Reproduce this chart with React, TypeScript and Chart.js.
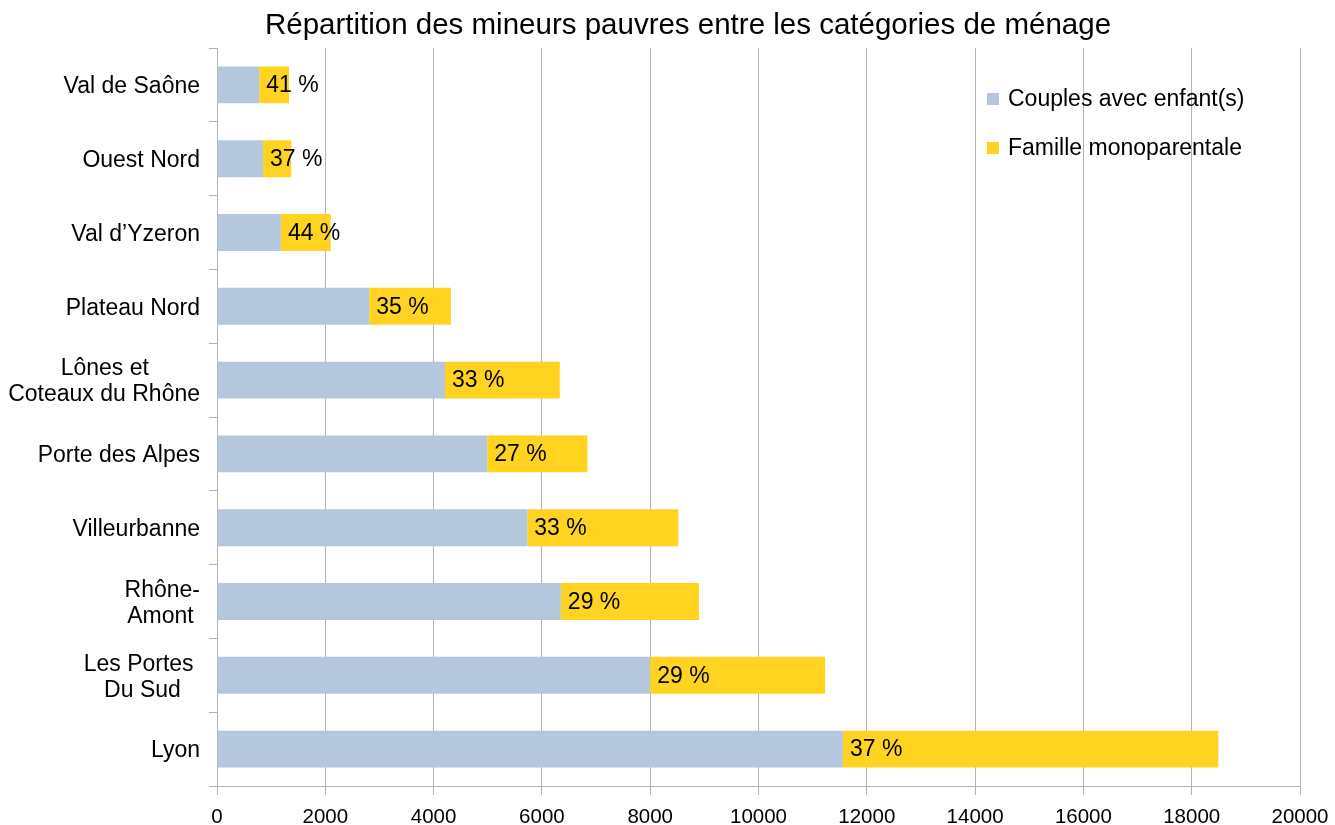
import React, { useEffect, useRef } from "react";
import { Chart, registerables } from "chart.js";

Chart.register(...registerables);

const titleText = "Répartition des mineurs pauvres entre les catégories de ménage";

const categories: (string | string[])[] = [
  "Val de Saône",
  "Ouest Nord",
  "Val d’Yzeron",
  "Plateau Nord",
  ["Lônes et        ", "Coteaux du Rhône"],
  "Porte des Alpes",
  "Villeurbanne",
  ["Rhône-", "Amont "],
  ["Les Portes ", "Du Sud   "],
  "Lyon",
];

const couples = [780, 850, 1180, 2810, 4210, 4990, 5730, 6350, 8000, 11560];
const monoparentale = [550, 520, 920, 1510, 2120, 1850, 2790, 2550, 3230, 6930];
const pctLabels = ["41 %", "37 %", "44 %", "35 %", "33 %", "27 %", "33 %", "29 %", "29 %", "37 %"];

const seriesNames = ["Couples avec enfant(s)", "Famille monoparentale"];
const seriesColors = ["#b4c7dc", "#ffd320"];

const xMax = 20000;
const xStep = 2000;

const FONT = "'Liberation Sans', Arial, sans-serif";

export default function App() {
  const ref = useRef<HTMLCanvasElement | null>(null);

  useEffect(() => {
    if (!ref.current) return;
    const titlePlugin = {
      id: "customTitle",
      afterDraw(chart: any) {
        const ctx = chart.ctx;
        ctx.save();
        ctx.font = `29.5px ${FONT}`;
        ctx.fillStyle = "#000";
        ctx.textAlign = "center";
        ctx.textBaseline = "middle";
        ctx.fillText(titleText, 688, 25.5);
        ctx.restore();
      },
    };
    const labelPlugin = {
      id: "pctLabels",
      afterDatasetsDraw(chart: any) {
        const ctx = chart.ctx;
        const meta = chart.getDatasetMeta(1);
        ctx.save();
        ctx.font = `23px ${FONT}`;
        ctx.fillStyle = "#000";
        ctx.textAlign = "left";
        ctx.textBaseline = "middle";
        meta.data.forEach((bar: any, i: number) => {
          ctx.fillText(pctLabels[i], bar.base + 7, bar.y + 1);
        });
        ctx.restore();
      },
    };
    const legendPlugin = {
      id: "innerLegend",
      afterDraw(chart: any) {
        const ctx = chart.ctx;
        const area = chart.chartArea;
        ctx.save();
        ctx.font = `23px ${FONT}`;
        ctx.textAlign = "left";
        ctx.textBaseline = "middle";
        chart.data.datasets.forEach((ds: any, i: number) => {
          const x = area.right - 313;
          const y = area.top + 51 + i * 49;
          ctx.fillStyle = ds.backgroundColor;
          ctx.fillRect(x, y - 6, 12, 12);
          ctx.fillStyle = "#000";
          ctx.fillText(ds.label, x + 21, y + 1);
        });
        ctx.restore();
      },
    };

    const chart = new Chart(ref.current, {
      type: "bar",
      data: {
        labels: categories as any,
        datasets: [
          { label: seriesNames[0], data: couples, backgroundColor: seriesColors[0], barPercentage: 0.5, categoryPercentage: 1 },
          { label: seriesNames[1], data: monoparentale, backgroundColor: seriesColors[1], barPercentage: 0.5, categoryPercentage: 1 },
        ],
      },
      options: {
        indexAxis: "y",
        responsive: false,
        animation: false,
        devicePixelRatio: 1,
        layout: { padding: { left: 0, right: 35, top: 48, bottom: 0 } },
        plugins: {
          legend: { display: false },
          tooltip: { enabled: false },
          title: { display: false },
        },
        scales: {
          x: {
            stacked: true,
            min: 0,
            max: xMax,
            ticks: {
              stepSize: xStep,
              color: "#000",
              font: { family: FONT, size: 20.5 },
              padding: 10,
              maxRotation: 0,
              callback: (v: any) => String(v),
            },
            grid: { color: "#b3b3b3", lineWidth: 1, tickLength: 9, drawTicks: true },
            border: { color: "#b3b3b3" },
            afterFit: (scale: any) => {
              scale.height = 39;
              scale.paddingRight = 0;
              scale.paddingLeft = 0;
            },
          },
          y: {
            stacked: true,
            ticks: {
              color: "#000",
              font: { family: FONT, size: 23, lineHeight: 1.13 },
              padding: 9,
              labelOffset: 2,
            },
            grid: { offset: true, drawOnChartArea: false, color: "#b3b3b3", tickLength: 8 },
            border: { color: "#b3b3b3" },
            afterFit: (scale: any) => {
              scale.width = 217;
            },
          },
        },
      },
      plugins: [labelPlugin, legendPlugin, titlePlugin],
    });
    return () => chart.destroy();
  }, []);

  return (
    <div style={{ position: "absolute", left: 0, top: 0, width: 1335, height: 825, background: "#fff" }}>
      <canvas ref={ref} width={1335} height={825} />
    </div>
  );
}
